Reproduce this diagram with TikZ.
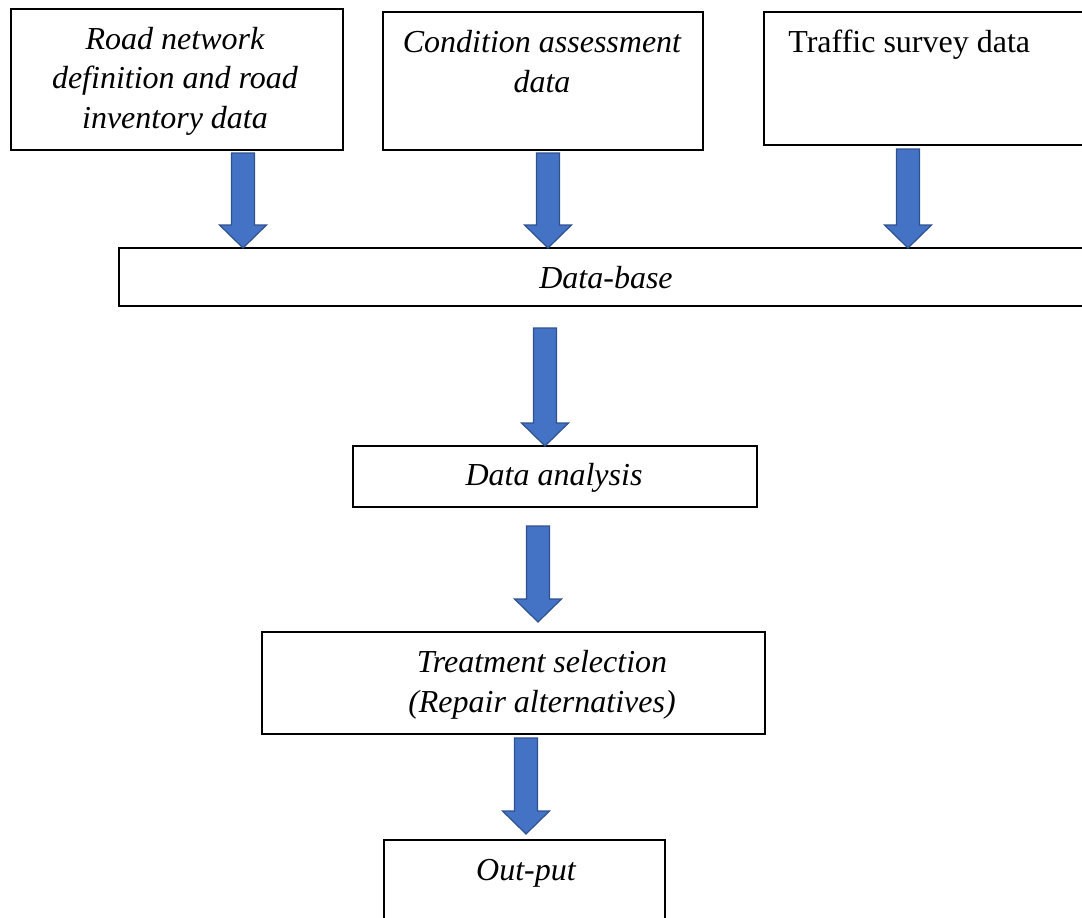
\documentclass[tikz,border=0pt]{standalone}
\usepackage{fontspec}
\setmainfont{Liberation Serif}
\usetikzlibrary{fit,calc}
\definecolor{arrowfill}{HTML}{4472C4}
\definecolor{arrowdraw}{HTML}{2F528F}
\newcommand\myblockarrow[2]{%
  \draw[blockarrow] let \p1=(#1), \p2=(#2) in
    (\x1-5.75pt,\y1) -- (\x1+5.75pt,\y1) -- (\x1+5.75pt,\y2+11.5pt) --
    (\x1+11.75pt,\y2+11.5pt) -- (\x1,\y2) -- (\x1-11.75pt,\y2+11.5pt) --
    (\x1-5.75pt,\y2+11.5pt) -- cycle;}
\tikzset{
  box/.style={draw=black, line width=0.8pt, inner sep=0pt, outer sep=0pt},
  lbl/.style={font=\fontsize{16}{19.75}\selectfont\itshape, inner sep=0pt, align=center, anchor=base},
  blockarrow/.style={fill=arrowfill, draw=arrowdraw, line width=0.6pt, line join=miter}
}
\begin{document}
\begin{tikzpicture}[x=0.5pt,y=-0.5pt]
\path[use as bounding box] (0,0) rectangle (1082,917);
\clip (0,0) rectangle (1082,917);
% boxes
\node[box, fit={(11,9) (343,150)}] (b1) {};
\node[box, fit={(383,12) (703,150)}] (b2) {};
\node[box, fit={(764,12) (1095,145)}] (b3) {};
\node[box, fit={(119,248) (1095,306)}] (db) {};
\node[box, fit={(353,446) (757,507)}] (da) {};
\node[box, fit={(262,632) (765,734)}] (ts) {};
\node[box, fit={(384,840) (665,930)}] (op) {};
% texts (base anchor = baseline of last line)
\node[lbl] (t1) at (175,128) {Road network\\definition and road\\inventory data};
\node[lbl] (t2) at (542,92) {Condition assessment\\data};
\node[lbl, font=\fontsize{16}{19.75}\selectfont\upshape, anchor=base west] (t3) at (788,52) {Traffic survey data};
\node[lbl] (t4) at (606,288) {Data-base};
\node[lbl] (t5) at (554,485) {Data analysis};
\node[lbl] (t6) at (542,712) {Treatment selection\\(Repair alternatives)};
\node[lbl] (t7) at (526,880) {Out-put};
% arrows
\coordinate (a1) at (243,153);
\coordinate (a2) at (548,153);
\coordinate (a3) at (908,149);
\coordinate (a4) at (545,328);
\coordinate (a5) at (538,526);
\coordinate (e5) at (538,622);
\coordinate (a6) at (526,738);
\coordinate (e6) at (526,834);
\myblockarrow{a1}{a1 |- db.north}
\myblockarrow{a2}{a2 |- db.north}
\myblockarrow{a3}{a3 |- db.north}
\myblockarrow{a4}{a4 |- da.north}
\myblockarrow{a5}{e5}
\myblockarrow{a6}{e6}
\end{tikzpicture}
\end{document}
